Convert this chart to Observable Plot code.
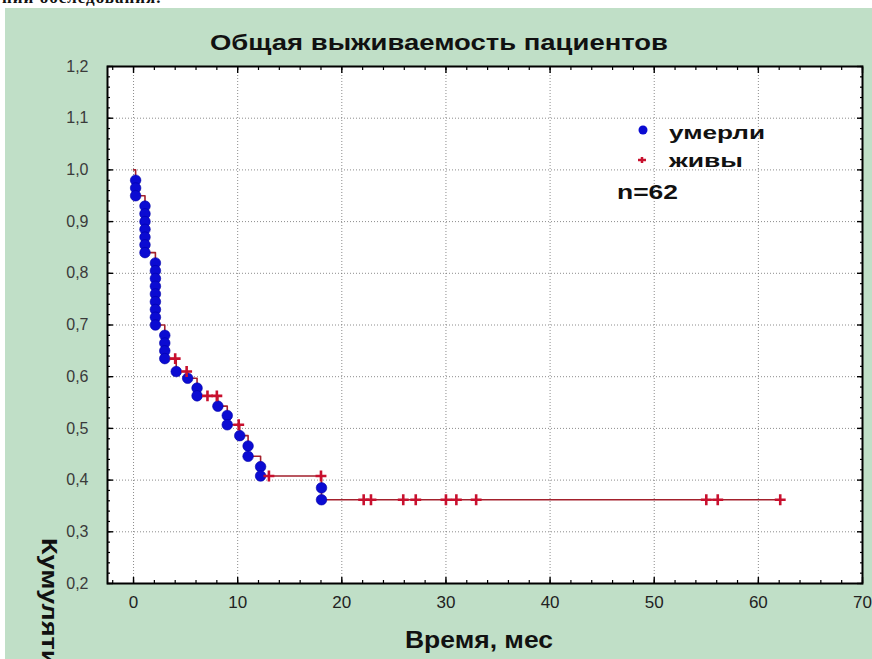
<!DOCTYPE html>
<html><head><meta charset="utf-8">
<script src="https://cdn.jsdelivr.net/npm/d3@7"></script>
<script src="https://cdn.jsdelivr.net/npm/@observablehq/plot@0.6"></script>
<style>
html,body{margin:0;padding:0;background:#fff;}
#page{position:relative;width:872px;height:659px;overflow:hidden;background:#fff;}
#panel{position:absolute;left:5px;top:8px;width:867px;height:651px;background:#c0dfc7;}
#toptext{position:absolute;left:2px;top:-12px;font:bold 17px "Liberation Serif",serif;color:#111;white-space:nowrap;letter-spacing:1px;}
#chart{position:absolute;left:0;top:0;}
#overlay{position:absolute;left:0;top:0;pointer-events:none;}
</style></head><body>
<div id="page"><div id="toptext">нии обследования.</div><div id="panel"></div><div id="chart"></div><svg id="overlay" width="872" height="659"></svg></div>
<script>
// ---- data ----
const deathTime = [0.2,0.2,0.2,
  1.1,1.1,1.1,1.1,1.1,1.1,1.1,
  2.1,2.1,2.1,2.1,2.1,2.1,2.1,2.1,2.1,
  3.0,3.0,3.0,3.0,
  4.1, 5.2, 6.1,6.1, 8.1, 9.0,9.0, 10.2, 11.0,11.0, 12.2,12.2, 18.05,18.05];
const deathSurv = [0.98,0.965,0.95,
  0.93,0.915,0.9,0.885,0.87,0.855,0.84,
  0.82,0.805,0.79,0.775,0.76,0.745,0.73,0.715,0.70,
  0.68,0.665,0.65,0.635,
  0.61, 0.597, 0.578,0.563, 0.543, 0.525,0.507, 0.486, 0.466,0.446, 0.426,0.408, 0.385,0.362];
const censTime = [4.0, 5.1, 7.1, 8.0, 10.1, 13.0, 18.0, 22.1, 22.8, 25.9, 27.1, 30.0, 31.0, 32.9, 55.0, 56.1, 62.1];
const censSurv = [0.635, 0.61, 0.563, 0.563, 0.507, 0.408, 0.408, 0.362, 0.362, 0.362, 0.362, 0.362, 0.362, 0.362, 0.362, 0.362, 0.362];
const startPoint = {t: 0, s: 1.0};

const xTicks = [0,10,20,30,40,50,60,70];
const yTicks = [0.2,0.3,0.4,0.5,0.6,0.7,0.8,0.9,1.0,1.1,1.2];
const xGrid = [0,10,20,30,40,50,60];
const yGrid = [0.3,0.4,0.5,0.6,0.7,0.8,0.9,1.0,1.1];

const titleText = "Общая выживаемость пациентов";
const xLabelText = "Время, мес";
const yLabelText = "Кумулятивная доля выживших";
const legendLabels = ["умерли", "живы"];
const nText = "n=62";

// ---- build ----
const deaths = deathTime.map((t, i) => ({t, s: deathSurv[i]}));
const cens = censTime.map((t, i) => ({t, s: censSurv[i]}));
const path = [startPoint, ...deaths, ...cens].sort((a, b) => a.t - b.t || b.s - a.s);

const xMinor = d3.range(-2, 70.001, 2);
const yMinor = d3.range(0.2, 1.2001, 0.02);
const none = () => "";
const sans = '"Liberation Sans",Arimo,Arial,sans-serif';

const chart = Plot.plot({
  width: 872, height: 659,
  marginLeft: 107, marginRight: 10, marginTop: 66, marginBottom: 76,
  style: {background: "transparent", overflow: "visible", fontFamily: sans},
  x: {domain: [-2.5, 70]},
  y: {domain: [0.2, 1.2]},
  marks: [
    Plot.frame({fill: "white"}),
    Plot.gridX(xGrid, {stroke: "#666", strokeOpacity: 0.75, strokeDasharray: "1,2"}),
    Plot.gridY(yGrid, {stroke: "#666", strokeOpacity: 0.75, strokeDasharray: "1,2"}),
    Plot.line(path, {x: "t", y: "s", curve: "step-after", stroke: "#a3202c", strokeWidth: 1.6}),
    Plot.dot(deaths, {x: "t", y: "s", r: 5.3, fill: "#0b0bd2", stroke: "#0000a8", strokeWidth: 0.6}),
    Plot.dot(cens, {x: "t", y: "s", symbol: "plus", r: 3.6, stroke: "#c8102e", strokeWidth: 2.6}),
    Plot.frame({stroke: "black", strokeWidth: 2}),
    Plot.axisX(xMinor, {anchor: "bottom", tickSize: -3, tickFormat: none, label: null, strokeWidth: 1.2}),
    Plot.axisX(xMinor, {anchor: "top", tickSize: -3, tickFormat: none, label: null, strokeWidth: 1.2}),
    Plot.axisX(xTicks, {anchor: "bottom", tickSize: -6, tickFormat: none, label: null, strokeWidth: 1.4}),
    Plot.axisX(xTicks, {anchor: "top", tickSize: -6, tickFormat: none, label: null, strokeWidth: 1.4}),
    Plot.axisY(yMinor, {anchor: "left", tickSize: -3, tickFormat: none, label: null, strokeWidth: 1.2}),
    Plot.axisY(yMinor, {anchor: "right", tickSize: -3, tickFormat: none, label: null, strokeWidth: 1.2}),
    Plot.axisY(yTicks, {anchor: "left", tickSize: -6, tickFormat: none, label: null, strokeWidth: 1.4}),
    Plot.axisY(yTicks, {anchor: "right", tickSize: -6, tickFormat: none, label: null, strokeWidth: 1.4}),
    Plot.axisX(xTicks, {anchor: "bottom", tickSize: 0, tickPadding: 12, label: null, fontSize: 17, color: "#222", tickFormat: d => String(d)}),
    Plot.axisY(yTicks, {anchor: "left", tickSize: 0, tickPadding: 19, label: null, fontSize: 16, color: "#3a3a3a", tickFormat: d => d.toFixed(1).replace(".", ",")})
  ]
});
document.getElementById("chart").appendChild(chart);

// ---- titles and legend ----
const ov = d3.select("#overlay");
const bold = (sel, size) => sel.attr("font-family", sans).attr("font-weight", "bold").attr("font-size", size).attr("fill", "#111");
bold(ov.append("text"), 22).attr("x", 210).attr("y", 50).attr("textLength", 458).attr("lengthAdjust", "spacingAndGlyphs").text(titleText);
bold(ov.append("text"), 23).attr("x", 405).attr("y", 648).attr("textLength", 148).attr("lengthAdjust", "spacingAndGlyphs").text(xLabelText);
bold(ov.append("text"), 22).attr("transform", "translate(42,538) rotate(90)").attr("textLength", 420).attr("lengthAdjust", "spacingAndGlyphs").text(yLabelText);

ov.append("circle").attr("cx", 643).attr("cy", 130).attr("r", 4.5).attr("fill", "#0b0bd2");
ov.append("path").attr("d", "M638,160H646M642,157V163").attr("stroke", "#c8102e").attr("stroke-width", 2.5);
bold(ov.append("text"), 19).attr("x", 669).attr("y", 139).attr("textLength", 96).attr("lengthAdjust", "spacingAndGlyphs").text(legendLabels[0]);
bold(ov.append("text"), 19).attr("x", 669).attr("y", 167).attr("textLength", 74).attr("lengthAdjust", "spacingAndGlyphs").text(legendLabels[1]);
bold(ov.append("text"), 20).attr("x", 617).attr("y", 199).attr("textLength", 61).attr("lengthAdjust", "spacingAndGlyphs").text(nText);
</script>
</body></html>
